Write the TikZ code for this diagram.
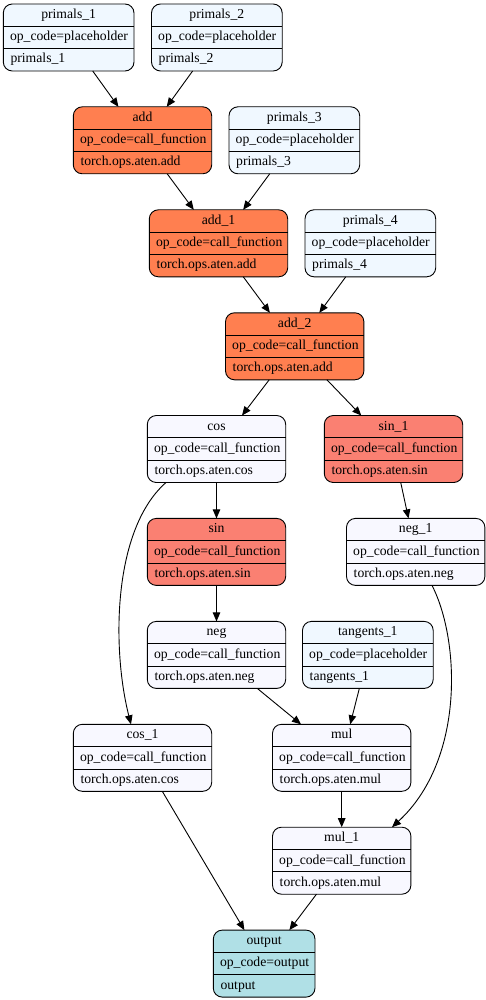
\documentclass[tikz,border=0pt]{standalone}
\usepackage{fontspec}
\setmainfont{Liberation Serif}
\usetikzlibrary{arrows.meta}
\definecolor{cph}{HTML}{F0F8FF}
\definecolor{ccoral}{HTML}{FF7F50}
\definecolor{csalmon}{HTML}{FA8072}
\definecolor{cghost}{HTML}{F8F8FF}
\definecolor{cpowder}{HTML}{B0E0E6}
\tikzset{
  gbox/.style={draw=black, line width=0.9pt, rounded corners=9pt, rectangle,
    inner sep=0pt, outer sep=0pt, minimum height=67pt},
  gline/.style={draw=black, line width=0.9pt},
  gtxt/.style={inner sep=0pt, font=\fontsize{13.7}{15}\selectfont, text height=9pt, text depth=3pt},
  gedge/.style={draw=black, line width=0.9pt, -{Triangle[length=9pt,width=7.5pt]}}
}
\newcommand{\gnode}[8]{%
  \pgfmathsetmacro\gw{#3-#2}%
  \pgfmathsetmacro\gcx{(#2+#3)/2}%
  \pgfmathsetmacro\gcy{#4+33.5}%
  \node[gbox, fill=#5, minimum width=\gw pt] (#1) at (\gcx,\gcy) {};
  \draw[gline] ([yshift=-22.33pt]#1.north west) -- ([yshift=-22.33pt]#1.north east);
  \draw[gline] ([yshift=-44.67pt]#1.north west) -- ([yshift=-44.67pt]#1.north east);
  \node[gtxt] (#1-t) at ([yshift=-11.5pt]#1.north) {#6};
  \node[gtxt, anchor=west] (#1-o) at ([xshift=6.5pt,yshift=-33.8pt]#1.north west) {#7};
  \node[gtxt, anchor=west] (#1-v) at ([xshift=7pt,yshift=-56pt]#1.north west) {#8};
}
\begin{document}
\begin{tikzpicture}[x=1pt,y=-1pt]
\useasboundingbox (0,0) rectangle (486,1000);
\fill[white] (0,0) rectangle (486,1000);
\gnode{p1}{3.3}{134}{4}{cph}{primals\_1}{op\_code=placeholder}{primals\_1}
\gnode{p2}{151.5}{282.2}{4}{cph}{primals\_2}{op\_code=placeholder}{primals\_2}
\gnode{add}{73.3}{211.7}{106.8}{ccoral}{add}{op\_code=call\_function}{torch.ops.aten.add}
\gnode{p3}{229}{359.7}{106.8}{cph}{primals\_3}{op\_code=placeholder}{primals\_3}
\gnode{add1}{149.3}{287.7}{209.8}{ccoral}{add\_1}{op\_code=call\_function}{torch.ops.aten.add}
\gnode{p4}{305}{435.7}{209.8}{cph}{primals\_4}{op\_code=placeholder}{primals\_4}
\gnode{add2}{225.5}{363.9}{312.8}{ccoral}{add\_2}{op\_code=call\_function}{torch.ops.aten.add}
\gnode{cos}{147.3}{285.7}{415.5}{cghost}{cos}{op\_code=call\_function}{torch.ops.aten.cos}
\gnode{sin1}{324.3}{462.7}{415.5}{csalmon}{sin\_1}{op\_code=call\_function}{torch.ops.aten.sin}
\gnode{sin}{147.3}{285.7}{518.4}{csalmon}{sin}{op\_code=call\_function}{torch.ops.aten.sin}
\gnode{neg1}{346.5}{484.9}{518.4}{cghost}{neg\_1}{op\_code=call\_function}{torch.ops.aten.neg}
\gnode{neg}{147.3}{285.7}{621.4}{cghost}{neg}{op\_code=call\_function}{torch.ops.aten.neg}
\gnode{tan}{302.5}{433.2}{621.4}{cph}{tangents\_1}{op\_code=placeholder}{tangents\_1}
\gnode{cos1}{73.3}{211.7}{724.3}{cghost}{cos\_1}{op\_code=call\_function}{torch.ops.aten.cos}
\gnode{mul}{272.5}{410.9}{724.3}{cghost}{mul}{op\_code=call\_function}{torch.ops.aten.mul}
\gnode{mul1}{272.5}{410.9}{827.2}{cghost}{mul\_1}{op\_code=call\_function}{torch.ops.aten.mul}
\gnode{out}{213.3}{315}{930.1}{cpowder}{output}{op\_code=output}{output}
\draw[gedge] (p1) -- (add);
\draw[gedge] (p2) -- (add);
\draw[gedge] (add) -- (add1);
\draw[gedge] (p3) -- (add1);
\draw[gedge] (add1) -- (add2);
\draw[gedge] (p4) -- (add2);
\draw[gedge] (add2) -- (cos);
\draw[gedge] (add2) -- (sin1);
\draw[gedge] (cos) -- (sin);
\draw[gedge] (sin1) -- (neg1);
\draw[gedge] (sin) -- (neg);
\draw[gedge] (neg) -- (mul);
\draw[gedge] (tan) -- (mul);
\draw[gedge] (mul) -- (mul1);
\draw[gedge] (cos1) -- (out);
\draw[gedge] (mul1) -- (out);
\coordinate (cs) at ([xshift=18.7pt]cos.south west);
\coordinate (ce) at ([xshift=57.7pt]cos1.north west);
\draw[gedge] (cs) .. controls (112,530) and (112,650) .. (ce);
\coordinate (ns) at ([xshift=85.5pt]neg1.south west);
\coordinate (ne) at ([xshift=119.5pt]mul1.north west);
\draw[gedge] (ns) .. controls (460,640) and (465,760) .. (ne);
\end{tikzpicture}
\end{document}
